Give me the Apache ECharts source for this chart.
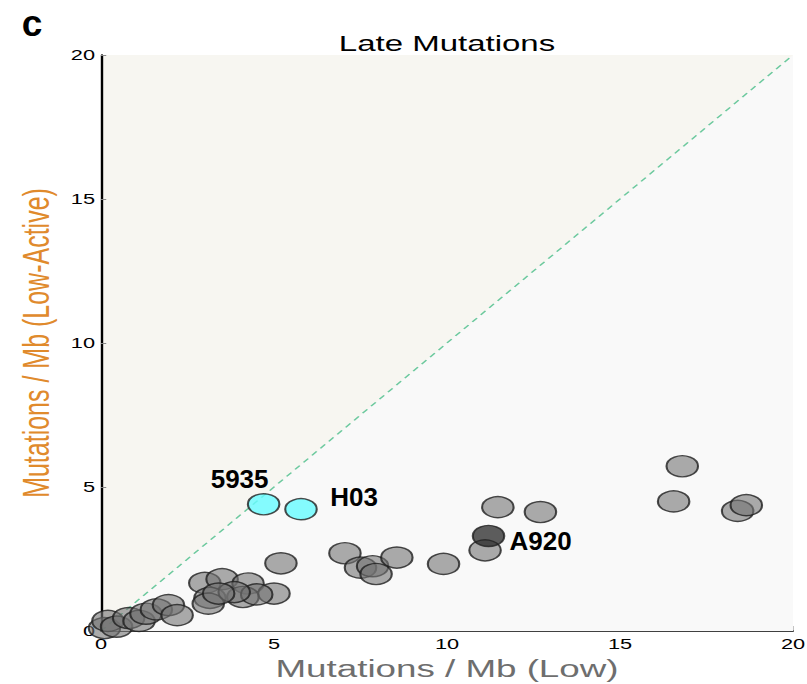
<!DOCTYPE html>
<html><head><meta charset="utf-8">
<script src="https://cdn.jsdelivr.net/npm/echarts@6/dist/echarts.min.js"></script>
<style>
html,body{margin:0;padding:0;background:#fff;overflow:hidden}
#wrap{width:807px;height:684px;overflow:hidden}
/* the reference figure is horizontally stretched 1.5x */
#c{width:538px;height:684px;transform:scaleX(1.5);transform-origin:0 0}
</style>
</head><body><div id="wrap"><div id="c"></div></div>
<script>
const FONT = 'Liberation Sans, Arial, Helvetica, sans-serif';
const SX = 1.5;
const xTicks = [0, 5, 10, 15, 20];
const yTicks = [0, 5, 10, 15, 20];
// grey samples: [Mutations/Mb (Low), Mutations/Mb (Low-Active)]
const greyX = [0.1, 0.2, 0.45, 0.8, 1.1, 1.3, 1.6, 1.95, 2.2,
  3.0, 3.5, 4.25, 5.0, 3.15, 3.1, 4.1, 4.5, 3.85, 3.4, 5.2,
  7.05, 7.5, 7.85, 7.95, 8.55, 9.9, 11.1, 11.47, 12.7,
  16.55, 16.8, 18.4, 18.65];
const greyY = [0.1, 0.35, 0.15, 0.45, 0.35, 0.6, 0.75, 0.9, 0.55,
  1.67, 1.8, 1.65, 1.3, 1.15, 0.95, 1.18, 1.27, 1.35, 1.3, 2.35,
  2.7, 2.2, 2.25, 1.98, 2.55, 2.33, 2.8, 4.3, 4.13,
  4.5, 5.72, 4.17, 4.37];
const cyanNames = ['5935', 'H03'];
const cyanX = [4.7, 5.78];
const cyanY = [4.4, 4.23];
const darkNames = ['A920'];
const darkX = [11.2];
const darkY = [3.3];

const chart = echarts.init(document.getElementById('c'), null, {renderer: 'svg'});
const greyData = greyX.map((x, i) => [x, greyY[i]]);
const cyanData = cyanX.map((x, i) => [x, cyanY[i]]);
const darkData = darkX.map((x, i) => [x, darkY[i]]);
const symStyle = {borderColor: '#1e1e1e', borderWidth: 1.4};
const SYM = [21, 21];
chart.setOption({
  animation: false,
  backgroundColor: '#fff',
  title: [
    {text: 'Late Mutations', left: 293, top: 28, textAlign: 'center',
      textStyle: {fontFamily: FONT, fontSize: 22, fontWeight: 'normal', color: '#000'}}
  ],
  grid: {left: 101 / SX, right: 14 / SX, top: 55, bottom: 53, show: true,
    backgroundColor: '#f7f6f1', borderWidth: 0, outerBoundsMode: 'none', containLabel: false},
  xAxis: {
    type: 'value', min: 0, max: 20, interval: 5,
    name: 'Mutations / Mb (Low)', nameLocation: 'middle', nameGap: 25,
    nameTextStyle: {fontFamily: FONT, fontSize: 24.5, color: '#6e6e6e'},
    axisLine: {show: true, lineStyle: {color: '#000', width: 1.6}},
    axisTick: {show: true, inside: true, length: 5, lineStyle: {color: '#888'}},
    axisLabel: {fontFamily: FONT, fontSize: 14.5, color: '#000', margin: 5,
      formatter: v => xTicks.includes(v) ? String(v) : ''},
    splitLine: {show: false}
  },
  yAxis: {
    type: 'value', min: 0, max: 20, interval: 5,
    name: 'Mutations / Mb (Low-Active)', nameLocation: 'middle', nameGap: 28,
    nameTextStyle: {fontFamily: FONT, fontSize: 25, color: '#e08a2c'},
    axisLine: {show: true, lineStyle: {color: '#000', width: 1.6}},
    axisTick: {show: true, inside: true, length: 3.5, lineStyle: {color: '#888'}},
    axisLabel: {fontFamily: FONT, fontSize: 14.5, color: '#000', margin: 4,
      formatter: v => yTicks.includes(v) ? String(v) : ''},
    splitLine: {show: false}
  },
  series: [
    {type: 'line', data: [[0, 0], [20, 20]], symbol: 'none', z: 1, silent: true,
      lineStyle: {color: '#6cc99e', width: 1.2, type: [5, 4]},
      areaStyle: {color: '#f9f9f9', opacity: 1, origin: 'start'}},
    {type: 'scatter', data: greyData, symbol: 'circle', symbolSize: SYM, z: 3,
      itemStyle: Object.assign({color: 'rgba(115,115,115,0.75)'}, symStyle)},
    {type: 'scatter', data: cyanData, symbol: 'circle', symbolSize: SYM, z: 4,
      itemStyle: Object.assign({color: '#66fbff'}, symStyle)},
    {type: 'scatter', data: darkData, symbol: 'circle', symbolSize: SYM, z: 4,
      itemStyle: Object.assign({color: 'rgba(35,35,35,0.92)'}, symStyle)}
  ]
});

// Point labels and panel letter are not stretched in the reference: counter-scale them.
const labelOffsets = {'5935': [-24, -25], 'H03': [53, -12], 'A920': [52, 5]};
const texts = [];
function addLabels(seriesIndex, names, xs, ys) {
  names.forEach((n, i) => {
    const p = chart.convertToPixel({seriesIndex: seriesIndex}, [xs[i], ys[i]]);
    const o = labelOffsets[n];
    texts.push({type: 'text', x: p[0] + o[0] / SX, y: p[1] + o[1], scaleX: 1 / SX, z: 10,
      style: {text: n, fill: '#000', font: 'bold 26px ' + FONT, textAlign: 'center', textVerticalAlign: 'middle'}});
  });
}
addLabels(2, cyanNames, cyanX, cyanY);
addLabels(3, darkNames, darkX, darkY);
texts.push({type: 'text', x: 32 / SX, y: 24, scaleX: 1 / SX, z: 10,
  style: {text: 'c', fill: '#000', font: 'bold 37px ' + FONT, textAlign: 'center', textVerticalAlign: 'middle'}});
chart.setOption({graphic: texts});
</script></body></html>
